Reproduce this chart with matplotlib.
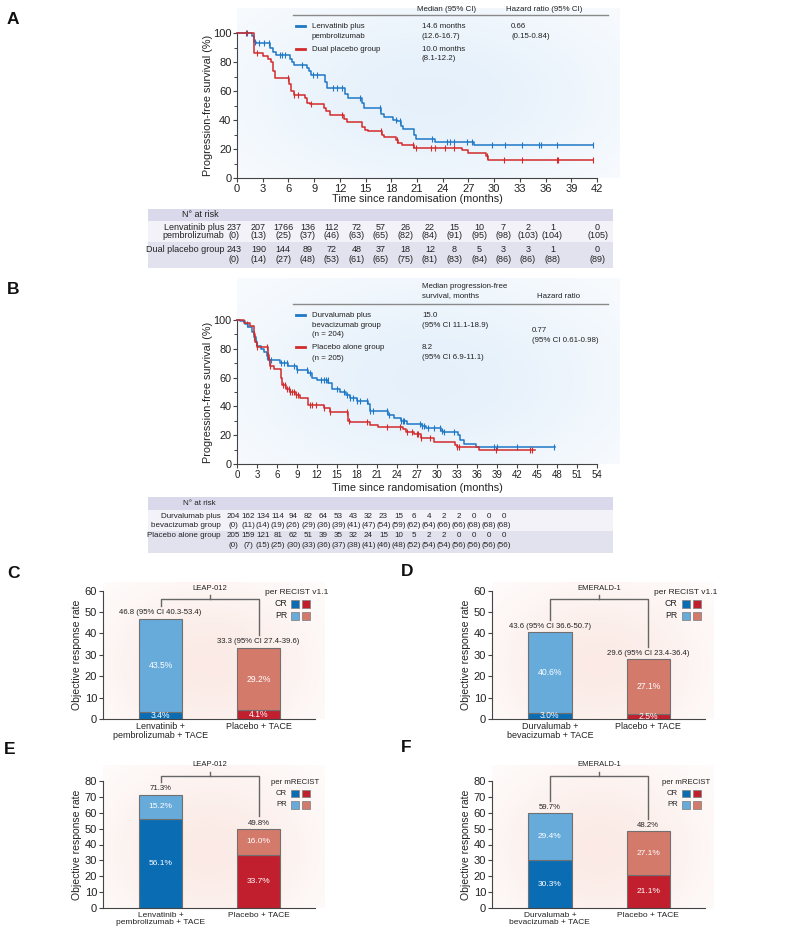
import numpy as np
import matplotlib.pyplot as plt
from matplotlib.patches import Rectangle

plt.rcParams['font.family'] = ['Liberation Sans', 'DejaVu Sans']

W, H = 787, 931

BLUE = '#1f78c6'
RED = '#d22b2b'
CR_BLUE, PR_BLUE = '#0a6db4', '#67abdb'
CR_RED, PR_RED = '#c21f2e', '#d47a6b'
INK = '#222222'
GREY = '#666666'

# ---- A: LEAP-012 progression-free survival (steps)
a_blue_t = [0, 1.8, 2.0, 2.2, 3.9, 4.2, 4.6, 6.2, 6.4, 6.7, 8.2, 8.4, 8.6, 10.3, 10.5,
            12.6, 12.9, 14.6, 14.8, 16.8, 17.1, 18.2, 18.7, 19.1, 19.4, 20.6, 20.9,
            23.1, 27.6, 41.5]
a_blue_s = [100, 98, 94, 93, 90, 87, 84.5, 82, 80, 78, 76, 74, 71, 66, 62,
            58, 55, 52, 48, 44, 42, 40, 39, 36, 34, 30, 27,
            25, 23, 23]
a_blue_cens = [1.2, 2.1, 2.6, 3.1, 3.7, 5.0, 5.3, 5.6, 7.6, 8.9, 9.3, 11.2, 11.7, 12.2,
               14.4, 16.7, 18.5, 19.0, 22.8, 24.5, 24.9, 25.3, 26.8, 27.4, 29.7, 31.3,
               33.2, 35.2, 35.5, 37.3, 41.5]
a_red_t = [0, 2.0, 3.0, 3.6, 4.0, 4.2, 4.4, 6.1, 6.3, 6.6, 7.9, 8.2, 8.5, 10.1, 10.4,
           10.8, 12.5, 12.8, 14.6, 14.9, 15.3, 16.9, 17.1, 18.5, 18.8, 19.2, 20.6,
           26.3, 27.0, 29.0, 29.3, 41.5]
a_red_s = [100, 86, 84, 82, 80, 74, 69, 65, 60, 57.5, 55, 52, 51, 48, 46,
           43.5, 41, 38.5, 35, 33, 32.5, 30, 28, 26, 24, 22.5, 21,
           19, 17.5, 15, 12.5, 12.5]
a_red_cens = [1.1, 2.3, 6.0, 6.7, 7.1, 8.6, 12.3, 16.8, 18.7, 20.5, 20.9, 22.6, 23.1,
              24.3, 25.3, 29.2, 31.2, 33.2, 37.3, 37.5, 41.5]
a_risk_blue = [237, 207, 1766, 136, 112, 72, 57, 26, 22, 15, 10, 7, 2, 1, 0]
a_out_blue = [0, 13, 25, 37, 46, 63, 65, 82, 84, 91, 95, 98, 103, 104, 105]
a_risk_red = [243, 190, 144, 89, 72, 48, 37, 18, 12, 8, 5, 3, 3, 1, 0]
a_out_red = [0, 14, 27, 48, 53, 61, 65, 75, 81, 83, 84, 86, 86, 88, 89]

# ---- B: EMERALD-1 progression-free survival
b_blue_t = [0, 0.5, 1.2, 1.7, 2.2, 2.5, 2.8, 3.0, 3.6, 4.1, 4.5, 4.6, 6.5, 7.7, 9.0,
            10.7, 11.2, 12.0, 13.7, 14.2, 15.4, 16.4, 17.0, 18.0, 19.6, 20.0, 22.6,
            23.5, 24.6, 25.5, 27.8, 28.3, 30.6, 30.9, 33.1, 33.4, 34.0, 35.8, 47.7]
b_blue_s = [100, 99, 97, 95, 92, 88, 85, 82, 80, 78, 75, 72, 70, 68, 65,
            63, 60, 58, 56, 52, 50, 48, 46, 44, 42, 37, 34,
            32, 30, 28, 26.5, 25, 23, 22.5, 20, 17, 14, 12, 12]
b_blue_cens = [1.5, 2.5, 2.8, 4.5, 4.8, 5.1, 6.6, 7.0, 7.5, 8.6, 9.0, 10.5, 11.0, 12.6,
               13.0, 13.3, 13.6, 15.0, 16.0, 16.5, 17.0, 17.4, 18.0, 18.5, 19.5, 20.0,
               20.4, 22.5, 22.8, 24.6, 24.9, 25.1, 27.5, 27.8, 28.1, 28.6, 29.5, 30.5,
               30.8, 31.1, 32.5, 38.5, 39.0, 42.0, 47.5]
b_red_t = [0, 1.0, 2.0, 2.5, 2.7, 3.0, 4.6, 4.8, 5.0, 5.5, 6.6, 6.8, 7.3, 8.0, 8.8,
           9.5, 10.6, 13.0, 14.0, 16.7, 16.9, 20.0, 21.2, 24.9, 25.4, 26.5, 27.6,
           29.5, 32.7, 33.0, 36.3, 44.7]
b_red_s = [100, 98, 96, 90, 85, 81, 76, 72, 68, 66, 60, 55, 52, 50, 48,
           46, 41, 39, 36, 30, 29, 27, 25.5, 24, 22.5, 21, 18,
           15, 13, 12, 10, 10]
b_red_cens = [2.5, 3.0, 4.5, 4.7, 5.0, 6.9, 7.2, 7.5, 7.8, 8.0, 8.3, 8.5, 8.8, 9.2,
              11.0, 11.3, 11.8, 13.0, 14.0, 16.5, 16.8, 19.5, 22.5, 24.5, 25.5, 26.3,
              27.0, 27.2, 27.6, 29.0, 33.0, 33.3, 38.8, 44.0, 44.3]
b_risk_blue = [204, 162, 134, 114, 94, 82, 64, 53, 43, 32, 23, 15, 6, 4, 2, 2, 0, 0, 0]
b_out_blue = [0, 11, 14, 19, 26, 29, 36, 39, 41, 47, 54, 59, 62, 64, 66, 66, 68, 68, 68]
b_risk_red = [205, 159, 121, 81, 62, 51, 39, 35, 32, 24, 15, 10, 5, 2, 2, 0, 0, 0, 0]
b_out_red = [0, 7, 15, 25, 30, 33, 36, 37, 38, 41, 46, 48, 52, 54, 54, 56, 56, 56, 56]

# ---- C-F: objective response (CR part and bar top as drawn)
arms_leap = ['Lenvatinib +\npembrolizumab + TACE', 'Placebo + TACE']
arms_emer = ['Durvalumab +\nbevacizumab + TACE', 'Placebo + TACE']
c_cr = [3.4, 4.1]
c_top = [46.9, 33.3]
c_cr_txt = ['3.4%', '4.1%']
c_pr_txt = ['43.5%', '29.2%']
c_top_txt = ['46.8 (95% CI 40.3-53.4)', '33.3 (95% CI 27.4-39.6)']
d_cr = [3.0, 2.5]
d_top = [40.6, 28.0]
d_cr_txt = ['3.0%', '2.5%']
d_pr_txt = ['40.6%', '27.1%']
d_top_txt = ['43.6 (95% CI 36.6-50.7)', '29.6 (95% CI 23.4-36.4)']
e_cr = [56.1, 33.7]
e_top = [71.3, 49.8]
e_cr_txt = ['56.1%', '33.7%']
e_pr_txt = ['15.2%', '16.0%']
e_top_txt = ['71.3%', '49.8%']
f_cr = [30.3, 21.1]
f_top = [59.7, 48.2]
f_cr_txt = ['30.3%', '21.1%']
f_pr_txt = ['29.4%', '27.1%']
f_top_txt = ['59.7%', '48.2%']


fig = plt.figure(figsize=(W / 100, H / 100), dpi=100)

bg = fig.add_axes([0, 0, 1, 1])
bg.set_axis_off()


def axes_px(l, t, r, b):
    return fig.add_axes([l / W, 1 - b / H, (r - l) / W, (b - t) / H])


def glow(x0, x1, y0, y1, cx, cy, rx, ry, rgb, amax):
    xs = np.linspace(x0, x1, 240)
    ys = np.linspace(y0, y1, 160)
    X, Y = np.meshgrid(xs, ys)
    v = np.exp(-(((X - cx) / rx) ** 2 + ((Y - cy) / ry) ** 2))
    img = np.zeros(X.shape + (4,))
    img[..., :3] = rgb
    img[..., 3] = amax * v
    bg.imshow(img, extent=(x0, x1, y1, y0), origin='upper', aspect='auto',
              interpolation='bilinear')


glow(237, 620, 8, 178, 430, 95, 230, 120, (0.80, 0.89, 0.97), 0.5)
glow(237, 620, 278, 464, 430, 380, 230, 130, (0.80, 0.89, 0.97), 0.5)
for gx in (0, 389):
    glow(103 + gx, 325 + gx, 582, 719, 210 + gx, 665, 115, 90, (0.97, 0.84, 0.80), 0.5)
    glow(103 + gx, 325 + gx, 765, 908, 210 + gx, 850, 115, 95, (0.97, 0.84, 0.80), 0.5)
bg.set_xlim(0, W)
bg.set_ylim(H, 0)


def style_spines(ax):
    for side in ('top', 'right'):
        ax.spines[side].set_visible(False)
    for side in ('left', 'bottom'):
        ax.spines[side].set_color('#444444')
        ax.spines[side].set_linewidth(0.8)


def km_axes(box, xmax, arms, xsize, ysize, xlab_y):
    ax = axes_px(*box)
    ax.set_facecolor('none')
    for t, s, cens, col in arms:
        t = np.asarray(t)
        s = np.asarray(s)
        ax.step(t, s, where='post', color=col, lw=1.1, clip_on=False, zorder=3)
        idx = np.searchsorted(t, cens, side='right') - 1
        ax.plot(cens, s[idx], ls='none', marker='|', ms=4, mew=0.8, color=col,
                clip_on=False, zorder=3)
    ax.set_xlim(0, xmax)
    ax.set_ylim(0, 100)
    ax.set_xticks(np.arange(0, xmax + 1, 3))
    ax.set_yticks(np.arange(0, 101, 20))
    ax.set_yticks(np.arange(10, 100, 20), minor=True)
    style_spines(ax)
    ax.tick_params(length=3, width=0.8, color='#444444', labelcolor=INK, pad=1)
    ax.tick_params(axis='x', labelsize=xsize)
    ax.tick_params(axis='y', labelsize=ysize)
    ax.tick_params(which='minor', length=2, width=0.7, color='#444444')
    ax.set_xlabel('Time since randomisation (months)', fontsize=7.8, color=INK)
    ax.set_ylabel('Progression-free survival (%)', fontsize=7.8, color=INK)
    ax.xaxis.set_label_coords(0.5, xlab_y)
    ax.yaxis.set_label_coords(-0.066, 0.5)
    return ax


km_axes((237, 33, 597, 178), 42,
        [(a_blue_t, a_blue_s, a_blue_cens, BLUE), (a_red_t, a_red_s, a_red_cens, RED)],
        8, 8, -0.109)
km_axes((237, 320, 597, 464), 54,
        [(b_blue_t, b_blue_s, b_blue_cens, BLUE), (b_red_t, b_red_s, b_red_cens, RED)],
        7, 7.8, -0.131)


def bar_axes(box, ymax, arms, cr, top, cr_txt, pr_txt, top_txt, trial, br_y,
             xsize, insize, topsize):
    l, t, r, b = box
    ax = axes_px(l, t, r, b)
    ax.set_facecolor('none')
    unit = ymax / (b - t)
    x = np.arange(len(arms))
    cr = np.asarray(cr, float)
    top = np.asarray(top, float)
    ax.bar(x, cr, width=0.44, color=[CR_BLUE, CR_RED], edgecolor='#707070',
           linewidth=0.8, zorder=2)
    ax.bar(x, top - cr, bottom=cr, width=0.44, color=[PR_BLUE, PR_RED],
           edgecolor='#707070', linewidth=0.8, zorder=2)
    for xi, c, tp, s1, s2, s3 in zip(x, cr, top, cr_txt, pr_txt, top_txt):
        ax.text(xi, c / 2, s1, color='white', ha='center', va='center',
                fontsize=insize, zorder=3)
        ax.text(xi, (c + tp) / 2, s2, color='white', ha='center', va='center',
                fontsize=insize, zorder=3)
        ax.text(xi, tp + 5.8 * unit, s3, color=INK, ha='center', va='center',
                fontsize=topsize, clip_on=False)
    legs = top + 12.5 * unit
    ax.plot([0, 0, 1, 1], [legs[0], br_y, br_y, legs[1]], color=GREY, lw=1,
            clip_on=False)
    ax.plot([0.5, 0.5], [br_y, br_y + 4 * unit], color=GREY, lw=1, clip_on=False)
    ax.text(0.5, br_y + 11 * unit, trial, ha='center', va='center', fontsize=5.5,
            color=INK, clip_on=False)
    ax.set_xlim(-0.59, 1.575)
    ax.set_ylim(0, ymax)
    ax.set_yticks(np.arange(0, ymax + 1, 10))
    ax.set_xticks(x, arms)
    for lbl in ax.get_xticklabels():
        lbl.set_linespacing(0.95)
    style_spines(ax)
    ax.tick_params(axis='y', length=3, width=0.8, color='#444444', labelsize=8,
                   labelcolor=INK, pad=1)
    ax.tick_params(axis='x', length=0, labelsize=xsize, labelcolor=INK, pad=2.5)
    ax.set_ylabel('Objective response rate', fontsize=7.5, color=INK)
    ax.yaxis.set_label_coords(-0.096, 0.5)
    return ax


bar_axes((102.7, 590.7, 315, 719), 60, arms_leap, c_cr, c_top, c_cr_txt, c_pr_txt,
         c_top_txt, 'LEAP-012', 56, 6.5, 6.2, 5.6)
bar_axes((491.7, 590.7, 705, 719), 60, arms_emer, d_cr, d_top, d_cr_txt, d_pr_txt,
         d_top_txt, 'EMERALD-1', 56, 6.5, 6.2, 5.6)
bar_axes((102.7, 780.7, 315, 908.3), 80, arms_leap, e_cr, e_top, e_cr_txt, e_pr_txt,
         e_top_txt, 'LEAP-012', 83, 6, 6, 5.6)
bar_axes((491.7, 780.7, 705, 908.3), 80, arms_emer, f_cr, f_top, f_cr_txt, f_pr_txt,
         f_top_txt, 'EMERALD-1', 83, 6, 6, 5.6)

# overlay in pixel coordinates for headers, legends and risk tables
ov = fig.add_axes([0, 0, 1, 1])
ov.set_axis_off()
ov.set_xlim(0, W)
ov.set_ylim(H, 0)


def txt(x, y, s, size=5.7, ha='left', **kw):
    ov.text(x, y, s, fontsize=size, ha=ha, va='center', color=INK, **kw)


for lab, x, y in (('A', 7, 20), ('B', 7, 290), ('C', 7, 573), ('D', 401, 572),
                  ('E', 4, 750), ('F', 401, 748)):
    ov.text(x, y, lab, fontsize=12.5, fontweight='bold', ha='left', va='center',
            color='#111111')

# A header
ov.plot([293, 608], [15, 15], color='#8a8a8a', lw=1)
txt(417, 9.5, 'Median (95% CI)')
txt(506, 9.5, 'Hazard ratio (95% CI)')
ov.plot([296, 305], [26.3, 26.3], color=BLUE, lw=2)
ov.plot([296, 305], [49.3, 49.3], color=RED, lw=2)
txt(312, 26.5, 'Lenvatinib plus')
txt(312, 36, 'pembrolizumab')
txt(312, 49.5, 'Dual placebo group')
txt(422, 26.5, '14.6 months')
txt(422, 36, '(12.6-16.7)')
txt(422, 49.5, '10.0 months')
txt(422, 59, '(8.1-12.2)')
txt(511, 26.5, '0.66')
txt(511, 36, '(0.15-0.84)')

# B header
ov.plot([293, 608], [304.3, 304.3], color='#8a8a8a', lw=1)
txt(422, 286, 'Median progression-free')
txt(422, 296, 'survival, months')
txt(537, 296, 'Hazard ratio')
ov.plot([296, 305], [315, 315], color=BLUE, lw=2)
ov.plot([296, 305], [347.3, 347.3], color=RED, lw=2)
txt(312, 315.5, 'Durvalumab plus')
txt(312, 325.3, 'bevacizumab group')
txt(312, 334.5, '(n = 204)')
txt(312, 347.5, 'Placebo alone group')
txt(312, 358.5, '(n = 205)')
txt(422, 315.5, '15.0')
txt(422, 325.3, '(95% CI 11.1-18.9)')
txt(422, 347.5, '8.2')
txt(422, 357.3, '(95% CI 6.9-11.1)')
txt(532, 331, '0.77')
txt(532, 341, '(95% CI 0.61-0.98)')


def risk_table(bands, y_head, rows, x_cols, size, label_x=224):
    for (y0, y1), col in zip(bands, ('#d9d9eb', '#f2f2f8', '#e2e2ef')):
        ov.add_patch(Rectangle((148, y0), 613 - 148, y1 - y0, fc=col, ec='none'))
    txt(label_x - 5, y_head, 'N° at risk', size=size, ha='right')
    for (y1, y2), names, risk, out in rows:
        for y, name in zip((y1, y2), names):
            txt(label_x, y, name, size=size, ha='right')
        for xc, n, o in zip(x_cols, risk, out):
            txt(xc, y1, str(n), size=size, ha='center')
            txt(xc, y2, '(%d)' % o, size=size, ha='center')


a_cols = list(np.linspace(234, 552.5, 14)) + [597.5]
risk_table([(209, 220.5), (220.5, 242), (242, 268)], 214.5,
           [((227, 236), ['Lenvatinib plus', 'pembrolizumab'], a_risk_blue, a_out_blue),
            ((250, 259), ['Dual placebo group'], a_risk_red, a_out_red)],
           a_cols, 6.5)
b_cols = np.linspace(233, 504, 19)
risk_table([(497, 510), (510, 531), (531, 553)], 503.5,
           [((516.7, 525.7), ['Durvalumab plus', 'bevacizumab group'], b_risk_blue, b_out_blue),
            ((535.7, 545.5), ['Placebo alone group'], b_risk_red, b_out_red)],
           b_cols, 5.8, label_x=221)


def resp_legend(cx, y_title, title, sq_x, y_cr, y_pr, tsize, lsize):
    txt(cx, y_title, title, size=tsize, ha='center')
    for y, lab, c1, c2 in ((y_cr, 'CR', CR_BLUE, CR_RED), (y_pr, 'PR', PR_BLUE, PR_RED)):
        txt(sq_x - 4, y, lab, size=lsize, ha='right')
        ov.add_patch(Rectangle((sq_x, y - 3.7), 7.8, 7.4, fc=c1, ec='#888888', lw=0.6))
        ov.add_patch(Rectangle((sq_x + 11, y - 3.7), 7.8, 7.4, fc=c2, ec='#888888', lw=0.6))


resp_legend(297, 592.7, 'per RECIST v1.1', 291, 604, 616, 6, 6.3)
resp_legend(686, 592.7, 'per RECIST v1.1', 681.7, 604, 616, 6, 6.3)
resp_legend(295, 782, 'per mRECIST', 290.7, 793.7, 805, 5.6, 5.6)
resp_legend(686.5, 782, 'per mRECIST', 681.7, 793.7, 805, 5.6, 5.6)

fig.savefig('out.png', dpi=100)
